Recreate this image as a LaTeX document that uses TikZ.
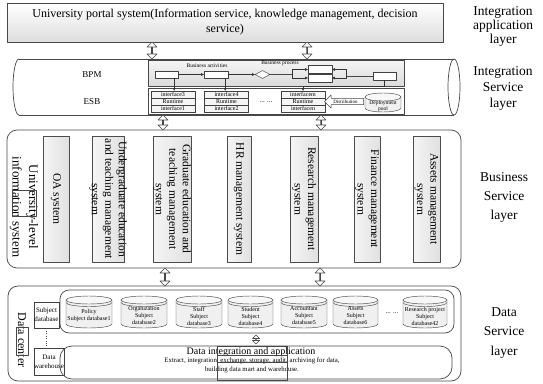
\documentclass[tikz,border=0pt]{standalone}
\usepackage{fontspec}
\setmainfont{Liberation Serif}
\usetikzlibrary{shapes.arrows,shapes.geometric,arrows.meta}
\newcommand\fsz[2]{\fontsize{#1}{#2}\selectfont}
% #1 name, #2 x1, #3 top, #4 x2, #5 bottom, #6 font, #7 text, #8 extra rim (1/0)
\newcommand\dbcyl[8]{%
  \pgfmathsetmacro\cyx{(#2+#4)/2}%
  \pgfmathsetmacro\cyr{(#4-#2)/2}%
  \filldraw[dbline, fill=black!6] (#2,{#3+4}) -- (#2,{#5-4})
     arc[start angle=180,end angle=0,x radius=\cyr,y radius=4] -- (#4,{#3+4});
  \filldraw[dbline, fill=black!3] (\cyx,{#3+4}) ellipse[x radius=\cyr,y radius=4];
  \ifnum#8=1
  \draw[dbline] (#2,{#3+6.5}) arc[start angle=180,end angle=0,x radius=\cyr,y radius=4];
  \fi
  \node[inner sep=0pt, align=center, font=#6] (#1) at (\cyx,{(#3+#5)/2+4}) {#7};
}
\begin{document}
\begin{tikzpicture}[x=1pt,y=-1pt,line join=round,
  lin/.style={draw=black!72,line width=0.7pt},
  thin/.style={draw=black!72,line width=0.45pt},
  dbline/.style={draw=black!72,line width=0.45pt},
  dbl/.style={double arrow, draw=black!72, fill=white, line width=0.6pt, rotate=90,
     inner sep=0pt, minimum width=10pt, double arrow head extend=3pt,
     double arrow head indent=0pt, minimum height=#1},
  layerlbl/.style={font=\fsz{13.5}{#1}, align=center, inner sep=0pt},
  vbox/.style={draw=black!70, line width=0.6pt, left color=black!4, right color=black!12,
     inner sep=0pt, minimum height=126pt},
  vtext/.style={rotate=-90, align=center, font=\fsz{11.5}{13.5}, inner sep=0pt},
  smbox/.style={draw=black!75, line width=0.45pt, fill=white, inner sep=0pt},
  row/.style={draw=black!75, line width=0.45pt, fill=black!4, inner sep=0pt,
     minimum width=44pt, minimum height=7pt, font=\fsz{6}{6}},
  arr/.style={draw=black!80, line width=0.45pt, -{Triangle[length=2.6pt,width=2.6pt]}},
]
\useasboundingbox (0,0) rectangle (543,383);

% ---------- Integration application layer
\node[lin, top color=white, bottom color=black!13, minimum width=436pt, minimum height=39pt,
  inner sep=0pt, align=center, font=\fsz{12}{15}] (portal) at (225,22.5)
  {University portal system(Information service, knowledge management, decision\\service)};

\node[layerlbl=14] (L1) at (503,26) {Integration\\application\\layer};
\node[layerlbl=16] (L2) at (503,88) {Integration\\Service\\layer};
\node[layerlbl=19] (L3) at (504,197) {Business\\Service\\layer};
\node[layerlbl=19.5] (L4) at (504,333) {Data\\Service\\layer};

% ---------- Integration service (horizontal cylinder)
\draw[lin] (19,59) -- (454,59);
\draw[lin] (19,115) -- (454,115);
\draw[lin] (19,59) arc[start angle=270,end angle=90,x radius=6,y radius=28];
\draw[lin] (454,87) ellipse[x radius=6,y radius=28];
\node[minimum width=441pt, minimum height=56pt, inner sep=0pt] (isl) at (234,87) {};

\node[font=\fsz{9}{10}] (bpm) at (92,75) {BPM};
\node[font=\fsz{9}{10}] (esb) at (92,102) {ESB};

\node[draw=black!72, line width=0.6pt, top color=black!4, bottom color=black!14,
  minimum width=256pt, minimum height=26pt, inner sep=0pt] (bpmp) at (276,73) {};
\node[draw=black!72, line width=0.6pt, fill=white,
  minimum width=256pt, minimum height=26pt, inner sep=0pt] (esbp) at (276,101) {};

\node[font=\fsz{5.5}{6}] (bact) at (207,66) {Business activities};
\node[font=\fsz{5.5}{6}] (bproc) at (280,63.5) {Business process};

\node[smbox, minimum width=23pt, minimum height=7pt] (r1) at (166.5,74.5) {};
\node[smbox, minimum width=24pt, minimum height=7pt] (r2) at (216,74.5) {};
\node[diamond, smbox, aspect=2, minimum width=15pt, minimum height=8pt] (dm) at (262.5,74.5) {};
\node[smbox, minimum width=24pt, minimum height=8pt] (r3a) at (320,69.5) {};
\node[smbox, minimum width=24pt, minimum height=8pt] (r3b) at (320,78) {};
\node[smbox, minimum width=23pt, minimum height=8pt] (r4) at (384.5,76) {};

\draw[arr] (r1) -- (r2);
\draw[arr] (r2) -- (dm);
\coordinate (sp) at (292,74.5);
\draw[thin] (dm.east) -- (sp);
\draw[arr] (sp) |- (r3a.west);
\draw[arr] (sp) |- (r3b.west);
\coordinate (jn) at (346,76);
\draw[thin] (r4.west) -- (jn);
\draw[arr] (jn) |- (r3a.east);
\draw[arr] (jn) |- (r3b.east);

% ESB interface stacks
\node[row] (g1a) at (173,94.5) {interface3};
\node[row] (g1b) at (173,101.5) {Runtime};
\node[row] (g1c) at (173,108.5) {interface1};
\node[row] (g2a) at (226.5,94.5) {interface4};
\node[row] (g2b) at (226.5,101.5) {Runtime};
\node[row] (g2c) at (226.5,108.5) {interface2};
\node[row] (g3a) at (303,94.5) {interfacem};
\node[row] (g3b) at (303,101.5) {Runtime};
\node[row] (g3c) at (303,108.5) {interfacen};
\node[font=\fsz{7}{7}] (dots1) at (266,102) {... ...};

\draw[arr] ([xshift=-4pt]r1.south east) -- ([xshift=-4pt]r1.south east |- g1a.north);
\draw[arr] ([xshift=-3pt]r2.south east) -- ([xshift=-3pt]r2.south east |- g2a.north);
\draw[arr] (r4.south) -- ++(0,6) -| (g3a.north);

\node[single arrow, shape border rotate=180, draw=black!72, fill=white, line width=0.5pt,
  minimum height=39pt, minimum width=13pt, single arrow head extend=3.5pt,
  single arrow head indent=0pt, inner sep=1pt, font=\fsz{5}{5}] (dist) at (345.5,101.5) {Distribution};
\dbcyl{pool}{365}{93}{401}{112}{\fsz{5.5}{6}}{Deployment\\pool}{0}

% arrows between layers
\node[dbl=17pt] (u1) at (152,50.5) {};
\node[dbl=17pt] (u2) at (307,50.5) {};
\node[dbl=15pt] (m1) at (163,122.5) {};
\node[dbl=15pt] (m2) at (321,122.5) {};
\node[dbl=18pt] (d1) at (165,277) {};
\node[dbl=18pt] (d2) at (320,277) {};

% ---------- Business service layer
\node[draw=black!72, line width=0.7pt, rounded corners=10pt, minimum width=454pt,
  minimum height=138pt, inner sep=0pt] (biz) at (234,199) {};
\node[rotate=-90, align=center, font=\fsz{13}{16.5}, inner sep=0pt] (uni) at (24,207)
  {University-level\\information system};
\draw[thin] (12,190) rectangle (36,216);

\node[vbox, minimum width=26pt] (oa) at (56,199) {};
\node[vtext] at (oa.center) {OA system};
\node[vbox, minimum width=32pt] (ug) at (108,199) {};
\node[vtext] at (ug.center) {Undergraduate education\\and teaching management\\system};
\node[vbox, minimum width=38pt] (gr) at (172,199) {};
\node[vtext] at (gr.center) {Graduate education and\\teaching management\\system};
\node[vbox, minimum width=24pt] (hr) at (239,199) {};
\node[vtext] at (hr.center) {HR management system};
\node[vbox, minimum width=28pt] (rs) at (304,199) {};
\node[vtext] at (rs.center) {Research management\\system};
\node[vbox, minimum width=26pt] (fi) at (367,199) {};
\node[vtext] at (fi.center) {Finance management\\system};
\node[vbox, minimum width=27pt] (as) at (426.5,199) {};
\node[vtext] at (as.center) {Assets management\\system};

% ---------- Data service layer
\node[draw=black!72, line width=0.7pt, rounded corners=10pt, minimum width=453pt,
  minimum height=95pt, inner sep=0pt] (data) at (234.5,333.5) {};
\node[rotate=-90, font=\fsz{12}{13}, inner sep=0pt] (dc) at (22,340) {Data center};
\draw[thin] (16,327) rectangle (28,355);

\node[smbox, line width=0.6pt, minimum width=25pt, minimum height=26pt, align=center,
  font=\fsz{7}{9}] (sdb) at (46.5,315) {Subject\\database};
\node[smbox, line width=0.6pt, minimum width=26pt, minimum height=27pt, align=center,
  font=\fsz{7}{9.5}] (dw) at (49,361.5) {Data\\warehouse};
\draw[thin, dotted] (sdb.south) -- (sdb.south |- dw.north);

\node[draw=black!72, line width=0.7pt, rounded corners=9pt, minimum width=394pt,
  minimum height=43pt, inner sep=0pt] (dbarea) at (257,311.5) {};
\node[draw=black!72, line width=0.7pt, rounded corners=12pt, minimum width=392pt,
  minimum height=33pt, inner sep=0pt] (integ) at (256,362.5) {};

\dbcyl{db1}{66}{296}{112}{328}{\fsz{6}{7}}{Policy\\Subject database1}{1}
\dbcyl{db2}{121}{296}{167}{328}{\fsz{6}{7}}{Organization\\Subject\\database2}{1}
\dbcyl{db3}{176}{296}{222}{328}{\fsz{6}{7}}{Staff\\Subject\\database3}{1}
\dbcyl{db4}{228}{296}{273}{328}{\fsz{6}{7}}{Student\\Subject\\database4}{1}
\dbcyl{db5}{281}{296}{327}{328}{\fsz{6}{7}}{Accountant\\Subject\\database5}{1}
\dbcyl{db6}{333}{296}{378}{328}{\fsz{6}{7}}{Assets\\Subject\\database6}{1}
\dbcyl{db7}{403}{296}{447}{328}{\fsz{6}{7}}{Research project\\Subject\\database42}{1}
\node[font=\fsz{7}{7}] (dots2) at (392,313) {... ...};

\node[double arrow, draw=black!72, fill=white, line width=0.6pt, rotate=90, inner sep=0pt,
  minimum width=7pt, double arrow head extend=2.5pt, double arrow head indent=0pt,
  minimum height=9pt] (sm) at (256,339.5) {};

\node[font=\fsz{10}{11}, inner sep=0pt] (dit) at (251,352.5) {Data integration and application};
\node[font=\fsz{6.8}{7}, inner sep=0pt] (dit2) at (252,361) {Extract, integration, exchange, storage, audit, archiving for data,};
\node[font=\fsz{6.8}{7}, inner sep=0pt] (dit3) at (252,370) {building data mart and warehouse.};
\draw[thin] (217,346) rectangle (287,380);
\draw[thin] (217,355) -- (287,355);
\draw[thin] (217,362) -- (287,362);
\end{tikzpicture}
\end{document}
